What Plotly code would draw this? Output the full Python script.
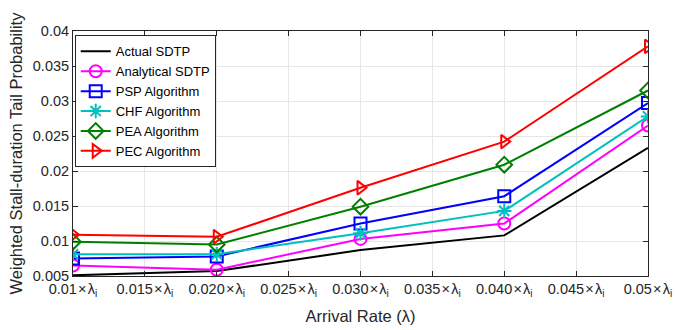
import plotly.graph_objects as go

x_vals = [0.01, 0.02, 0.03, 0.04, 0.05]
actual_sdtp = [0.0051, 0.0057, 0.0087, 0.0108, 0.0233]
analytical_sdtp = [0.0065, 0.0059, 0.0103, 0.0125, 0.0265]
psp = [0.0075, 0.0078, 0.0125, 0.0164, 0.0297]
chf = [0.0081, 0.0081, 0.0111, 0.0143, 0.0278]
pea = [0.0099, 0.0095, 0.0149, 0.0209, 0.0315]
pec = [0.0109, 0.0106, 0.0176, 0.0242, 0.0378]

x_ticks = [0.01, 0.015, 0.02, 0.025, 0.03, 0.035, 0.04, 0.045, 0.05]
x_tick_labels = ["0.01\u200a×\u200aλ<sub>i</sub>", "0.015\u200a×\u200aλ<sub>i</sub>", "0.020\u200a×\u200aλ<sub>i</sub>",
                 "0.025\u200a×\u200aλ<sub>i</sub>", "0.030\u200a×\u200aλ<sub>i</sub>", "0.035\u200a×\u200aλ<sub>i</sub>",
                 "0.040\u200a×\u200aλ<sub>i</sub>", "0.045\u200a×\u200aλ<sub>i</sub>", "0.05\u200a×\u200aλ<sub>i</sub>"]
y_ticks = [0.005, 0.01, 0.015, 0.02, 0.025, 0.03, 0.035, 0.04]
y_tick_labels = ["0.005", "0.01", "0.015", "0.02", "0.025", "0.03", "0.035", "0.04"]

series = [
    ("Actual SDTP", actual_sdtp, "black", None),
    ("Analytical SDTP", analytical_sdtp, "#ff00ff", "circle-open"),
    ("PSP Algorithm", psp, "#0000ff", "square-open"),
    ("CHF Algorithm", chf, "#00bfbf", "asterisk-open"),
    ("PEA Algorithm", pea, "#008000", "diamond-open"),
    ("PEC Algorithm", pec, "#ff0000", "triangle-right-open"),
]

fig = go.Figure()
for name, vals, color, sym in series:
    if sym is None:
        fig.add_trace(go.Scatter(x=x_vals, y=vals, name=name, mode="lines",
                                 line=dict(color=color, width=2)))
    else:
        fig.add_trace(go.Scatter(x=x_vals, y=vals, name=name, mode="lines+markers",
                                 line=dict(color=color, width=2),
                                 marker=dict(symbol=sym, size=12, color=color,
                                             line=dict(color=color, width=2))))

axis_common = dict(showline=True, linecolor="#262626", linewidth=1, mirror="ticks",
                   ticks="inside", ticklen=5, tickcolor="#262626", automargin=False,
                   showgrid=True, gridcolor="#e6e6e6", gridwidth=1, zeroline=False,
                   tickfont=dict(family="Liberation Sans, Arial, sans-serif", size=14.5, color="#262626"))

fig.update_layout(
    width=677, height=330,
    margin=dict(l=73, r=29, t=31, b=54),
    paper_bgcolor="white", plot_bgcolor="white",
    font=dict(family="Liberation Sans, Arial, sans-serif", color="#262626"),
    xaxis=dict(range=[0.01, 0.05], tickvals=x_ticks, ticktext=x_tick_labels,
               title=dict(text="Arrival Rate (λ)", font=dict(size=16.5), standoff=12),
               **axis_common),
    yaxis=dict(range=[0.005, 0.04], tickvals=y_ticks, ticktext=y_tick_labels,
               title=dict(text="Weighted Stall-duration Tail Probability", font=dict(size=16.5), standoff=6),
               **axis_common),
    legend=dict(x=0.003, y=0.982, xanchor="left", yanchor="top",
                bgcolor="white", bordercolor="#262626", borderwidth=1,
                font=dict(size=13, color="black"), tracegroupgap=0,
                itemwidth=30),
    showlegend=True,
)

fig.write_html("out.html", config={"displayModeBar": False},
               post_script="document.body.style.margin='0';document.body.style.overflow='hidden';")
